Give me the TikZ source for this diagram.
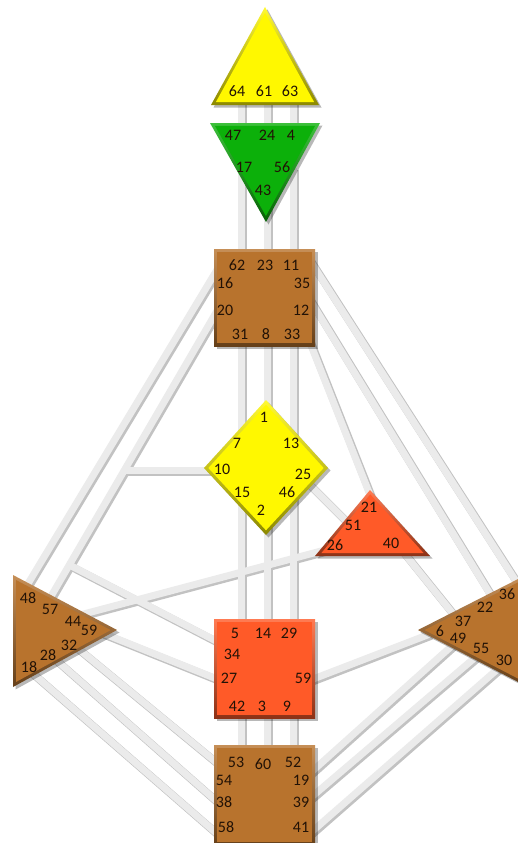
\documentclass[tikz,border=0pt]{standalone}
\usepackage{fontspec}
\setmainfont{Carlito}
\definecolor{hdYellow}{HTML}{FFF800}
\definecolor{hdGreen}{HTML}{0CB00A}
\definecolor{hdBrown}{HTML}{B8732D}
\definecolor{hdRed}{HTML}{FF5A28}
\definecolor{hdText}{HTML}{221206}
\definecolor{chMain}{HTML}{EBEBEB}
\definecolor{chShade}{HTML}{C2C2C2}
\newcommand{\hdshape}[4]{%
  \fill[black,opacity=0.28,shift={(2.5,2.5)}] #2 -- cycle;
  \shade[top color=#1!80!white,bottom color=#1!55!black] #2 -- cycle;
  \fill[#1,scale around={#4:#3}] #2 -- cycle;
}
\tikzset{
  gate/.style={font=\fontsize{16}{18}\selectfont, text=hdText, inner sep=0pt},
  chsh/.style={draw=chShade, line width=8pt, transform canvas={shift={(1.6pt,-1.6pt)}}},
  chln/.style={draw=chMain, line width=7pt}
}
\begin{document}
\begin{tikzpicture}[x=1pt,y=-1pt]
\fill[white] (0,0) rectangle (517,843);
\useasboundingbox (0,0) rectangle (517,843);

% ---- gate coordinates (channel end points) ----
% head
\coordinate (g64) at (241,95);
\coordinate (g61) at (267,95);
\coordinate (g63) at (293,95);
% ajna
\coordinate (g47) at (241,130);
\coordinate (g24) at (267,130);
\coordinate (g4)  at (293,130);
\coordinate (g17) at (241,168);
\coordinate (g43) at (267,195);
\coordinate (g56) at (293,168);
% throat
\coordinate (g62) at (241,262);
\coordinate (g23) at (267,262);
\coordinate (g11) at (293,262);
\coordinate (g16) at (220.5,264);
\coordinate (g20) at (221,304);
\coordinate (g35) at (309,259);
\coordinate (g12) at (310,300);
\coordinate (g45) at (305,330);
\coordinate (g31) at (241,338);
\coordinate (g8)  at (267,338);
\coordinate (g33) at (293,338);
% G
\coordinate (g1)  at (267,420);
\coordinate (g7)  at (241,445);
\coordinate (g13) at (293,445);
\coordinate (g10) at (215,470);
\coordinate (g25) at (305,480);
\coordinate (g15) at (241,490);
\coordinate (g46) at (293,490);
\coordinate (g2)  at (267,510);
% heart
\coordinate (g21) at (372,500);
\coordinate (g51) at (352,527);
\coordinate (g26) at (325,550);
\coordinate (g40) at (400,548);
% spleen
\coordinate (g48) at (23,592);
\coordinate (g57) at (46,605);
\coordinate (g44) at (80,615);
\coordinate (g50) at (100,632);
\coordinate (g32) at (75,646);
\coordinate (g28) at (55,659);
\coordinate (g18) at (30,671);
% solar plexus
\coordinate (g36) at (521,589);
\coordinate (g22) at (495,602);
\coordinate (g37) at (458,620);
\coordinate (g6)  at (430,634);
\coordinate (g49) at (455,643);
\coordinate (g55) at (478,655);
\coordinate (g30) at (500,667);
% sacral
\coordinate (g5)  at (241,630);
\coordinate (g14) at (267,630);
\coordinate (g29) at (293,630);
\coordinate (g34) at (222,644);
\coordinate (g27) at (222,681);
\coordinate (g59) at (308,681);
\coordinate (g42) at (241,705);
\coordinate (g3)  at (267,705);
\coordinate (g9)  at (293,705);
% root
\coordinate (g53) at (241,760);
\coordinate (g60) at (267,760);
\coordinate (g52) at (293,760);
\coordinate (g54) at (222,767);
\coordinate (g38) at (222,806);
\coordinate (g58) at (222,838);
\coordinate (g19) at (308,775);
\coordinate (g39) at (308,800);
\coordinate (g41) at (308,835);
% junctions on the 20-57 channel
\coordinate (j10) at (124.7,470);
\coordinate (j34) at (69.5,565);

\def\hdchannels{g64/g47,g61/g24,g63/g4,g17/g62,g43/g23,g56/g11,g31/g7,g8/g1,g33/g13,g15/g5,g2/g14,g46/g29,g42/g53,g3/g60,g9/g52,g16/g48,g20/g57,g10/j10,j34/g34,g44/g26,g50/g27,g32/g54,g28/g38,g18/g58,g35/g36,g12/g22,g45/g21,g25/g51,g40/g37,g59/g6,g49/g19,g55/g39,g30/g41}
\foreach \a/\b in \hdchannels {\draw[chsh] (\a) -- (\b);}
\foreach \a/\b in \hdchannels {\draw[chln] (\a) -- (\b);}

% ---- centres ----
\hdshape{hdYellow}{(265,7) -- (319,105) -- (211,105)}{(265,73)}{0.91}
\hdshape{hdGreen}{(210,123) -- (320,123) -- (266,222)}{(265,155)}{0.91}
\hdshape{hdBrown}{(214,249) -- (315,249) -- (315,346) -- (214,346)}{(264.5,297.5)}{0.94}
\hdshape{hdYellow}{(266,400) -- (328,468) -- (266,535) -- (204,468)}{(266,468)}{0.93}
\hdshape{hdRed}{(370,490) -- (430,556) -- (315,556)}{(372.5,530)}{0.89}
\hdshape{hdBrown}{(13,575) -- (117,630) -- (13,687)}{(46.5,631)}{0.91}
\hdshape{hdBrown}{(418,630) -- (524,576) -- (524,685)}{(490.7,630.5)}{0.91}
\hdshape{hdRed}{(214,619) -- (315,619) -- (315,718) -- (214,718)}{(264.5,668.5)}{0.94}
\hdshape{hdBrown}{(214,745) -- (315,745) -- (315,845) -- (214,845)}{(264.5,795)}{0.94}

% ---- gate labels ----
\node[gate] (t64) at (237,91) {64};
\node[gate] (t61) at (264,91) {61};
\node[gate] (t63) at (290,91) {63};

\node[gate] (t47) at (233,135) {47};
\node[gate] (t24) at (267,135) {24};
\node[gate] (t4)  at (291,135) {4};
\node[gate] (t17) at (244,167) {17};
\node[gate] (t56) at (282,167) {56};
\node[gate] (t43) at (263,190) {43};

\node[gate] (t62) at (237,265) {62};
\node[gate] (t23) at (265,265) {23};
\node[gate] (t11) at (291,265) {11};
\node[gate] (t16) at (225,283) {16};
\node[gate] (t35) at (302,283) {35};
\node[gate] (t20) at (225,310) {20};
\node[gate] (t12) at (301,310) {12};
\node[gate] (t31) at (240,334) {31};
\node[gate] (t8)  at (266,334) {8};
\node[gate] (t33) at (292,334) {33};

\node[gate] (t1)  at (264,417) {1};
\node[gate] (t7)  at (237,443) {7};
\node[gate] (t13) at (291,443) {13};
\node[gate] (t10) at (222,469) {10};
\node[gate] (t25) at (303,474) {25};
\node[gate] (t15) at (242,492) {15};
\node[gate] (t46) at (287,492) {46};
\node[gate] (t2)  at (261,510) {2};

\node[gate] (t21) at (369,507) {21};
\node[gate] (t51) at (353,525) {51};
\node[gate] (t26) at (335,545) {26};
\node[gate] (t40) at (391,543) {40};

\node[gate] (t48) at (28,598) {48};
\node[gate] (t57) at (50,609) {57};
\node[gate] (t44) at (73,621) {44};
\node[gate] (t59s) at (89,630) {59};
\node[gate] (t32) at (69,645) {32};
\node[gate] (t28) at (48,655) {28};
\node[gate] (t18) at (29,667) {18};

\node[gate] (t36) at (507,594) {36};
\node[gate] (t22) at (485,607) {22};
\node[gate] (t37) at (463,621) {37};
\node[gate] (t6)  at (440,631) {6};
\node[gate] (t49) at (458,638) {49};
\node[gate] (t55) at (481,648) {55};
\node[gate] (t30) at (504,660) {30};

\node[gate] (t5)  at (235,633) {5};
\node[gate] (t14) at (263,633) {14};
\node[gate] (t29) at (289,633) {29};
\node[gate] (t34) at (232,654) {34};
\node[gate] (t27) at (229,678) {27};
\node[gate] (t59) at (303,678) {59};
\node[gate] (t42) at (237,706) {42};
\node[gate] (t3)  at (262,706) {3};
\node[gate] (t9)  at (287,706) {9};

\node[gate] (t53) at (236,762) {53};
\node[gate] (t60) at (263,764) {60};
\node[gate] (t52) at (293,762) {52};
\node[gate] (t54) at (224,780) {54};
\node[gate] (t19) at (301,780) {19};
\node[gate] (t38) at (224,802) {38};
\node[gate] (t39) at (301,802) {39};
\node[gate] (t58) at (226,827) {58};
\node[gate] (t41) at (301,827) {41};
\end{tikzpicture}
\end{document}
